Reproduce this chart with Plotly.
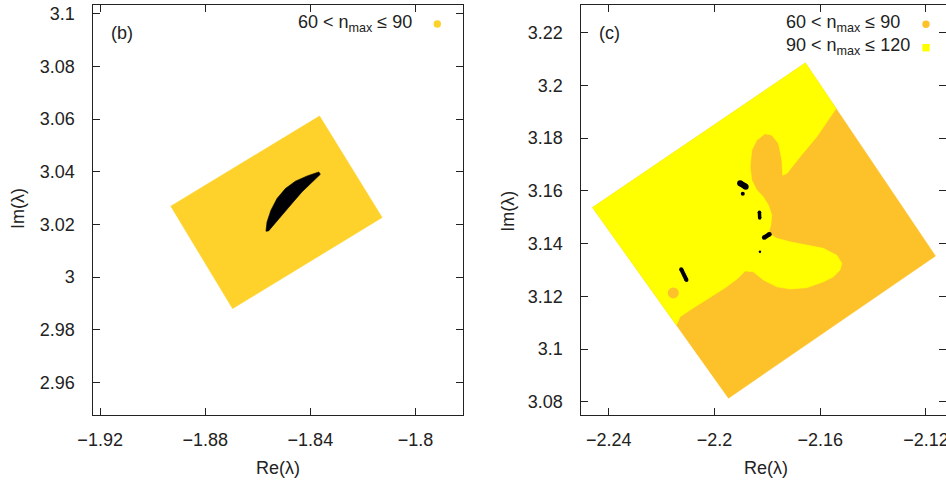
import plotly.graph_objects as go

# ---------------- data ----------------
# panel (b)
b_xticks = [-1.92, -1.88, -1.84, -1.8]
b_xtick_text = ["\u22121.92", "\u22121.88", "\u22121.84", "\u22121.8"]
b_yticks = [2.96, 2.98, 3.0, 3.02, 3.04, 3.06, 3.08, 3.1]
b_ytick_text = ["2.96", "2.98", "3", "3.02", "3.04", "3.06", "3.08", "3.1"]

# region with 60 < n_max <= 90 (corners of the sampled square)
b_region_re = [-1.8365, -1.8931, -1.8696, -1.8127]
b_region_im = [3.0611, 3.0269, 2.9880, 3.0226]
# unresolved (black) crescent
b_core_re = [-1.8569, -1.8565, -1.8550, -1.8527, -1.8495, -1.8457, -1.8412, -1.8368,
             -1.8362, -1.8393, -1.8432, -1.8470, -1.8508, -1.8540, -1.8559]
b_core_im = [3.0174, 3.0209, 3.0254, 3.0298, 3.0336, 3.0364, 3.0384, 3.0399,
             3.0390, 3.0361, 3.0323, 3.0279, 3.0235, 3.0197, 3.0175]

# panel (c)
c_xticks = [-2.24, -2.2, -2.16, -2.12]
c_xtick_text = ["\u22122.24", "\u22122.2", "\u22122.16", "\u22122.12"]
c_yticks = [3.08, 3.1, 3.12, 3.14, 3.16, 3.18, 3.2, 3.22]
c_ytick_text = ["3.08", "3.1", "3.12", "3.14", "3.16", "3.18", "3.2", "3.22"]

# whole sampled square (60 < n_max <= 90 background)
c_region_re = [-2.1656, -2.2461, -2.1947, -2.1164]
c_region_im = [3.2085, 3.1537, 3.0814, 3.1353]
# sub-region with 90 < n_max <= 120
c_high_re = [-2.2461, -2.1656, -2.1540, -2.1613, -2.1676, -2.1726, -2.1742, -2.1745,
             -2.1758, -2.1783, -2.1809, -2.1840, -2.1859, -2.1865, -2.1859, -2.1840,
             -2.1815, -2.1796, -2.1783, -2.1787, -2.1796, -2.1764, -2.1714, -2.1651,
             -2.1588, -2.1537, -2.1518, -2.1525, -2.1550, -2.1588, -2.1651, -2.1714,
             -2.1764, -2.1815, -2.1853, -2.1884, -2.1911, -2.1954, -2.2004, -2.2055,
             -2.2092, -2.2130, -2.2144]
c_high_im = [3.1537, 3.2085, 3.1912, 3.1805, 3.1729, 3.1666, 3.1659, 3.1716,
             3.1780, 3.1811, 3.1817, 3.1792, 3.1754, 3.1691, 3.1641, 3.1603,
             3.1577, 3.1546, 3.1508, 3.1470, 3.1439, 3.1420, 3.1407, 3.1394,
             3.1382, 3.1356, 3.1325, 3.1300, 3.1274, 3.1255, 3.1233, 3.1228,
             3.1236, 3.1262, 3.1293, 3.1296, 3.1269, 3.1236, 3.1205, 3.1173,
             3.1148, 3.1123, 3.1091]
# isolated 60 < n_max <= 90 point inside the yellow area
c_island_re = [-2.2156]
c_island_im = [3.1213]
# unresolved (black) spots, as short strokes
c_spots_re = [[-2.1903, -2.1882], [-2.1893], [-2.1830, -2.1829],
              [-2.1812, -2.1792], [-2.1828], [-2.2126, -2.2106]]
c_spots_im = [[3.1629, 3.1616], [3.1589], [3.1519, 3.1497],
              [3.1423, 3.1436], [3.1369], [3.1303, 3.1262]]

legend_b = ["60 < n<sub>max</sub> \u2264 90"]
legend_c = ["60 < n<sub>max</sub> \u2264 90", "90 < n<sub>max</sub> \u2264 120"]

# ---------------- styles ----------------
GOLD_B = "#FED22A"
ORANGE_C = "#FDC12A"
YELLOW_C = "#FFFF00"
BLACK = "#000005"
spot_widths = [6, 4, 3.5, 4.5, 2.5, 4]
FONT = "Liberation Sans, Arial, Helvetica, sans-serif"
W, H = 946, 482
ML, MR, MT, MB = 0, 0, 5, 67
PH = H - MT - MB

fig = go.Figure()

def poly(re, im, color, xa, ya):
    fig.add_trace(go.Scatter(
        x=re + re[:1], y=im + im[:1], mode="lines", fill="toself",
        fillcolor=color, line=dict(color=color, width=0.6),
        xaxis=xa, yaxis=ya, hoverinfo="skip", showlegend=False))

# panel (b)
poly(b_region_re, b_region_im, GOLD_B, "x", "y")
poly(b_core_re, b_core_im, BLACK, "x", "y")

# panel (c)
poly(c_region_re, c_region_im, ORANGE_C, "x2", "y2")
poly(c_high_re, c_high_im, YELLOW_C, "x2", "y2")
fig.add_trace(go.Scatter(x=c_island_re, y=c_island_im, mode="markers",
                         marker=dict(color=ORANGE_C, size=11, line=dict(width=0)),
                         xaxis="x2", yaxis="y2", hoverinfo="skip", showlegend=False))
for sre, sim, w in zip(c_spots_re, c_spots_im, spot_widths):
    fig.add_trace(go.Scatter(x=sre, y=sim, mode="lines+markers",
                             line=dict(color=BLACK, width=w),
                             marker=dict(color=BLACK, size=w, line=dict(width=0)),
                             xaxis="x2", yaxis="y2", hoverinfo="skip",
                             showlegend=False))

def px_x(p):
    return (p - ML) / (W - ML - MR)

def px_y(p):
    return (H - MB - p) / PH

ax_common = dict(showline=True, linecolor="#222222", linewidth=1, mirror="allticks",
                 ticks="inside", ticklen=7, tickcolor="#222222", tickwidth=1,
                 showgrid=False, zeroline=False, automargin=False,
                 ticklabeloverflow="allow",
                 tickfont=dict(family=FONT, size=18, color="#222222"))

fig.update_layout(
    template="none",
    width=W, height=H, margin=dict(l=ML, r=MR, t=MT, b=MB, autoexpand=False),
    paper_bgcolor="white", plot_bgcolor="white", showlegend=False,
    xaxis=dict(domain=[px_x(93.3), px_x(463.3)], range=[-1.9226, -1.7818],
               tickvals=b_xticks, ticktext=b_xtick_text, anchor="y",
               ticklabelstandoff=8, **ax_common),
    yaxis=dict(domain=[0, 1], range=[2.9476, 3.1033],
               tickvals=b_yticks, ticktext=b_ytick_text, anchor="x",
               ticklabelstandoff=14, **ax_common),
    xaxis2=dict(domain=[px_x(581.3), 1.0], range=[-2.2504, -2.1124],
                tickvals=c_xticks, ticktext=c_xtick_text, anchor="y2",
                ticklabelstandoff=8, **ax_common),
    yaxis2=dict(domain=[0, 1], range=[3.0750, 3.2305],
                tickvals=c_yticks, ticktext=c_ytick_text, anchor="x2",
                ticklabelstandoff=14, **ax_common),
)

ann_font = dict(family=FONT, size=18, color="#222222")
annotations = [
    dict(text="Re(\u03bb)", x=px_x(278.3), y=px_y(468), xref="paper", yref="paper",
         xanchor="center", yanchor="middle", showarrow=False, font=ann_font),
    dict(text="Re(\u03bb)", x=px_x(766), y=px_y(468), xref="paper", yref="paper",
         xanchor="center", yanchor="middle", showarrow=False, font=ann_font),
    dict(text="Im(\u03bb)", x=px_x(18), y=px_y(209), xref="paper", yref="paper",
         xanchor="center", yanchor="middle", textangle=-90, showarrow=False, font=ann_font),
    dict(text="Im(\u03bb)", x=px_x(507.7), y=px_y(211), xref="paper", yref="paper",
         xanchor="center", yanchor="middle", textangle=-90, showarrow=False, font=ann_font),
    dict(text="(b)", x=px_x(121.7), y=px_y(33.5), xref="paper", yref="paper",
         xanchor="center", yanchor="middle", showarrow=False, font=ann_font),
    dict(text="(c)", x=px_x(609.3), y=px_y(33.5), xref="paper", yref="paper",
         xanchor="center", yanchor="middle", showarrow=False, font=ann_font),
]
shapes = []
# legend of panel (b)
for i, lab in enumerate(legend_b):
    yy = 23 + 23.5 * i
    annotations.append(dict(text=lab, x=px_x(296), y=px_y(yy), xref="paper", yref="paper",
                            xanchor="left", yanchor="middle", showarrow=False, font=ann_font))
    shapes.append(dict(type="circle", xref="paper", yref="paper",
                       xsizemode="pixel", ysizemode="pixel",
                       xanchor=px_x(437.3), yanchor=px_y(yy + 1),
                       x0=-3.7, x1=3.7, y0=-3.7, y1=3.7,
                       fillcolor=GOLD_B, line=dict(width=0)))
# legend of panel (c)
leg_c_colors = [ORANGE_C, YELLOW_C]
leg_c_types = ["circle", "rect"]
for i, lab in enumerate(legend_c):
    yy = 23.3 + 23.4 * i
    annotations.append(dict(text=lab, x=px_x(784.3), y=px_y(yy), xref="paper", yref="paper",
                            xanchor="left", yanchor="middle", showarrow=False, font=ann_font))
    shapes.append(dict(type=leg_c_types[i], xref="paper", yref="paper",
                       xsizemode="pixel", ysizemode="pixel",
                       xanchor=px_x(926), yanchor=px_y(yy + 1),
                       x0=-3.7, x1=3.7, y0=-3.7, y1=3.7,
                       fillcolor=leg_c_colors[i], line=dict(width=0)))

fig.update_layout(annotations=annotations, shapes=shapes)
fig.write_html("out.html", config={"displayModeBar": False},
               post_script="document.body.style.margin='0';document.body.style.overflow='hidden';")
